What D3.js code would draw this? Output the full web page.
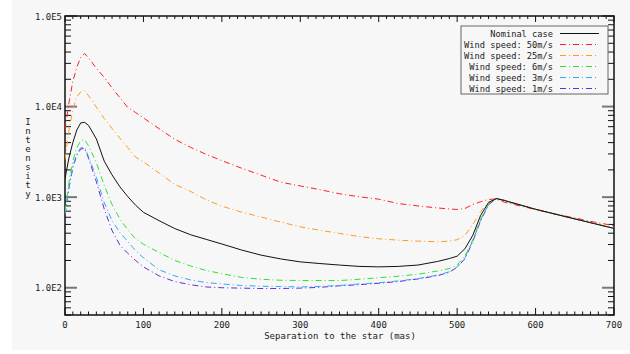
<!DOCTYPE html>
<html><head><meta charset="utf-8">
<script src="https://cdn.jsdelivr.net/npm/d3@7"></script>
<style>
html,body{margin:0;padding:0;background:#fff;}
text{font-family:"DejaVu Sans Mono","Liberation Mono",monospace;font-size:9px;fill:#222;}
</style></head>
<body>
<svg id="chart" width="630" height="354"></svg>
<script>
const separation = [0,5,10,15,20,25,30,40,50,60,70,80,90,100,120,140,160,180,200,225,250,275,300,325,350,375,400,425,450,475,490,500,510,520,530,540,550,560,575,600,625,650,675,700];
const nominal = [1600,2700,4000,5500,6600,6700,6200,4400,2500,1760,1300,1015,815,680,550,450,385,342,304,261,229,208,193,185,178,172,170,172,178,195,210,223,270,380,630,870,966,920,845,735,650,575,510,452];
const wind50 = [5500,11000,19000,27000,35000,38500,34500,26500,21000,16100,12500,9800,8600,7500,5700,4350,3550,2970,2530,2090,1750,1465,1330,1210,1090,1010,950,850,800,760,740,731,750,830,890,945,955,880,820,730,650,590,530,485];
const wind25 = [2600,5500,9300,12800,14500,15000,13200,9860,7400,5730,4490,3520,2770,2450,1850,1380,1160,935,795,684,603,531,470,431,398,367,347,335,327,322,327,339,380,500,690,890,945,920,845,735,650,575,510,452];
const wind6 = [700,1450,2500,3500,4200,4300,3700,2400,1350,830,575,436,347,302,245,200,174,155,143,130,124,121,120,120,120,124,129,134,141,153,163,178,224,339,575,830,966,925,845,735,650,575,510,452];
const wind3 = [650,1300,2200,3000,3500,3550,2800,1660,870,550,407,324,257,214,158,135,122,114,110,106,104,103,102,103.5,106,110,113.5,119,126,138,150,170,214,331,562,830,966,925,845,735,650,575,510,452];
const wind1 = [640,1250,2100,2900,3400,3450,2700,1480,740,427,295,240,200,170,135,117,108,102,100,99,98,98,99,101,105,108,112,117,125,136,148,168,209,324,550,822,966,925,845,735,650,575,510,452];
const seriesNames = ["Nominal case","Wind speed: 50m/s","Wind speed: 25m/s","Wind speed: 6m/s","Wind speed: 3m/s","Wind speed: 1m/s"];
const seriesValues = [nominal, wind50, wind25, wind6, wind3, wind1];
const seriesColors = ["#111111","#ff2020","#ff9a20","#30e030","#30a8ff","#6a2ed0"];
const seriesDash = [null,"6,3,1,3","6,3,1,3","6,3,1,3","6,3,1,3","6,3,1,3"];
const xTicks = [0,100,200,300,400,500,600,700];
const yTicks = [1e2,1e3,1e4,1e5];
const yTickLabels = ["1.0E2","1.0E3","1.0E4","1.0E5"];

const svg = d3.select("#chart");
const L = 65, R = 614, T = 16, B = 315;
svg.append("rect").attr("x",12).attr("y",0).attr("width",618).attr("height",350).attr("fill","#f7f7f7");

const x = d3.scaleLinear().domain([0,700]).range([L,R]);
const y = d3.scaleLog().domain([50,1e5]).range([B,T]);

svg.append("clipPath").attr("id","clip").append("rect").attr("x",L).attr("y",T).attr("width",R-L).attr("height",B-T);

const xMinor = d3.range(0,701,10);
const yMinor = [];
[10,100,1000,10000].forEach(d=>{for(let k=2;k<=9;k++){const v=d*k; if(v>=50 && v<1e5) yMinor.push(v);}});

const g = svg.append("g");
xMinor.forEach(v=>{
  const major = v%100===0;
  g.append("line").attr("x1",x(v)).attr("x2",x(v)).attr("y1",B).attr("y2",B-(major?7:3.5)).attr("stroke","#111");
  g.append("line").attr("x1",x(v)).attr("x2",x(v)).attr("y1",T).attr("y2",T+(major?6:3)).attr("stroke","#111");
});
yMinor.forEach(v=>{
  g.append("line").attr("x1",L).attr("x2",L+6).attr("y1",y(v)).attr("y2",y(v)).attr("stroke","#111");
  g.append("line").attr("x1",R).attr("x2",R-6).attr("y1",y(v)).attr("y2",y(v)).attr("stroke","#111");
});
yTicks.forEach(v=>{
  g.append("line").attr("x1",L).attr("x2",L+12).attr("y1",y(v)).attr("y2",y(v)).attr("stroke","#777").attr("stroke-width",2);
  g.append("line").attr("x1",R).attr("x2",R-12).attr("y1",y(v)).attr("y2",y(v)).attr("stroke","#777").attr("stroke-width",2);
});
svg.append("rect").attr("x",L).attr("y",T).attr("width",R-L).attr("height",B-T).attr("fill","none").attr("stroke","#111").attr("stroke-width",1.5);

xTicks.forEach(v=>{
  svg.append("text").attr("x",x(v)).attr("y",328).attr("text-anchor","middle").text(v);
});
yTicks.forEach((v,i)=>{
  svg.append("text").attr("x",62).attr("y",y(v)+3.5).attr("text-anchor","end").text(yTickLabels[i]);
});
svg.append("text").attr("x",340).attr("y",339).attr("text-anchor","middle").text("Separation to the star (mas)");
"Intensity".split("").forEach((c,i)=>{
  svg.append("text").attr("x",28).attr("y",125+i*8.95).attr("text-anchor","middle").text(c);
});

const line = d3.line().x((d,i)=>x(separation[i])).y(d=>y(d));
const cg = svg.append("g").attr("clip-path","url(#clip)");
for(let s=seriesValues.length-1;s>=0;s--){
  cg.append("path").attr("d",line(seriesValues[s])).attr("fill","none")
    .attr("stroke",seriesColors[s]).attr("stroke-width",1)
    .attr("stroke-dasharray",seriesDash[s]);
}

const lg = svg.append("g");
lg.append("rect").attr("x",461).attr("y",26).attr("width",147).attr("height",68).attr("fill","#f7f7f7").attr("stroke","#666").attr("stroke-width",1);
seriesNames.forEach((n,i)=>{
  const yy = 33.5 + i*11;
  lg.append("text").attr("x",553).attr("y",yy+3.3).attr("text-anchor","end").style("font-size","8.7px").text(n);
  lg.append("line").attr("x1",560).attr("x2",599).attr("y1",yy).attr("y2",yy)
    .attr("stroke",seriesColors[i]).attr("stroke-width",1).attr("stroke-dasharray",seriesDash[i]);
});
</script>
</body></html>
